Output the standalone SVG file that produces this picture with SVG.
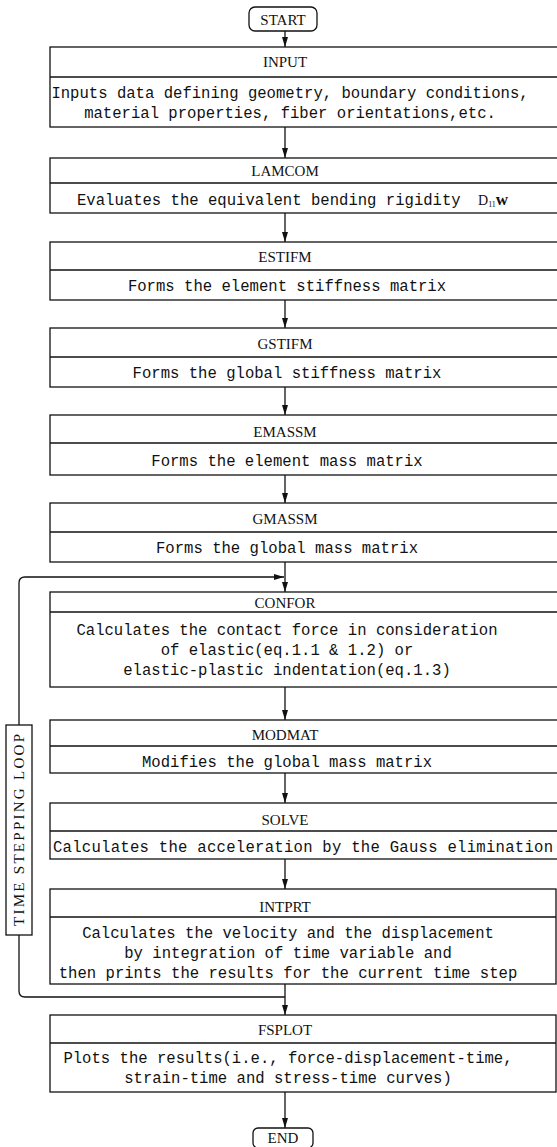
<svg xmlns="http://www.w3.org/2000/svg" width="557" height="1147" viewBox="0 0 557 1147">
<style>
.box{fill:#fff;stroke:#111;stroke-width:1.3}
.div{stroke:#111;stroke-width:1.3}
.hd{font-family:"Liberation Serif",serif;font-size:15px;text-anchor:middle;fill:#111}
.bd{font-family:"Liberation Mono",monospace;font-size:15.6px;text-anchor:middle;fill:#111}
.ln{fill:none;stroke:#111;stroke-width:1.3}
</style>
<defs>
<marker id="ah" markerUnits="userSpaceOnUse" markerWidth="10" markerHeight="10" viewBox="0 0 10 10" refX="10" refY="5" orient="auto">
<path d="M0,2 L10,5 L0,8 Z" fill="#111"/>
</marker>
</defs>
<rect width="557" height="1147" fill="#fff"/>
<g id="connectors">
<line class="ln" x1="285" y1="31" x2="285" y2="47" marker-end="url(#ah)"/>
<line class="ln" x1="285" y1="127" x2="285" y2="158" marker-end="url(#ah)"/>
<line class="ln" x1="285" y1="213" x2="285" y2="242" marker-end="url(#ah)"/>
<line class="ln" x1="285" y1="300" x2="285" y2="328" marker-end="url(#ah)"/>
<line class="ln" x1="285" y1="387" x2="285" y2="415" marker-end="url(#ah)"/>
<line class="ln" x1="285" y1="475" x2="285" y2="503" marker-end="url(#ah)"/>
<line class="ln" x1="285" y1="562" x2="285" y2="592" marker-end="url(#ah)"/>
<line class="ln" x1="285" y1="687" x2="285" y2="720" marker-end="url(#ah)"/>
<line class="ln" x1="285" y1="773" x2="285" y2="803" marker-end="url(#ah)"/>
<line class="ln" x1="285" y1="859" x2="285" y2="889" marker-end="url(#ah)"/>
<line class="ln" x1="285" y1="984" x2="285" y2="1015" marker-end="url(#ah)"/>
<line class="ln" x1="285" y1="1092" x2="285" y2="1128" marker-end="url(#ah)"/>
<path class="ln" d="M285,997 H25 Q19,997 19,991 V935"/>
<path class="ln" d="M19,725 V583 Q19,577 25,577 H284" marker-end="url(#ah)"/>
</g>
<g id="loop">
<rect class="box" x="6" y="725" width="26" height="210"/>
<text class="hd" transform="translate(24,830) rotate(-90)" textLength="192" lengthAdjust="spacing">TIME STEPPING LOOP</text>
</g>
<g id="start">
<rect class="box" x="249" y="7" width="68" height="24" rx="6"/>
<text class="hd" x="283" y="25">START</text>
</g>
<g id="input">
<rect class="box" x="50" y="47" width="512" height="80"/>
<line class="div" x1="50" y1="77" x2="562" y2="77"/>
<text class="hd" x="285" y="67">INPUT</text>
<text class="bd" x="290" y="98">Inputs data defining geometry, boundary conditions,</text>
<text class="bd" x="290" y="118">material properties, fiber orientations,etc.</text>
</g>
<g id="lamcom">
<rect class="box" x="50" y="158" width="512" height="55"/>
<line class="div" x1="50" y1="183" x2="562" y2="183"/>
<text class="hd" x="285" y="176">LAMCOM</text>
<text class="bd" x="77" y="205" style="text-anchor:start">Evaluates the equivalent bending rigidity</text>
<text x="478" y="205" style="font-family:'Liberation Serif',serif;font-size:14px;fill:#111">D<tspan font-size="8" dy="2">11</tspan><tspan dy="-2" font-weight="bold" font-size="17">w</tspan></text>
</g>
<g id="estifm">
<rect class="box" x="50" y="242" width="512" height="58"/>
<line class="div" x1="50" y1="270" x2="562" y2="270"/>
<text class="hd" x="285" y="262">ESTIFM</text>
<text class="bd" x="287" y="291">Forms the element stiffness matrix</text>
</g>
<g id="gstifm">
<rect class="box" x="50" y="328" width="512" height="59"/>
<line class="div" x1="50" y1="357" x2="562" y2="357"/>
<text class="hd" x="285" y="349">GSTIFM</text>
<text class="bd" x="287" y="378">Forms the global stiffness matrix</text>
</g>
<g id="emassm">
<rect class="box" x="50" y="415" width="512" height="60"/>
<line class="div" x1="50" y1="443" x2="562" y2="443"/>
<text class="hd" x="285" y="437">EMASSM</text>
<text class="bd" x="287" y="466">Forms the element mass matrix</text>
</g>
<g id="gmassm">
<rect class="box" x="50" y="503" width="512" height="59"/>
<line class="div" x1="50" y1="532" x2="562" y2="532"/>
<text class="hd" x="285" y="524">GMASSM</text>
<text class="bd" x="287" y="553">Forms the global mass matrix</text>
</g>
<g id="confor">
<rect class="box" x="50" y="592" width="512" height="95"/>
<line class="div" x1="50" y1="612" x2="562" y2="612"/>
<text class="hd" x="285" y="608">CONFOR</text>
<text class="bd" x="287" y="635">Calculates the contact force in consideration</text>
<text class="bd" x="287" y="655">of elastic(eq.1.1 &amp; 1.2) or</text>
<text class="bd" x="287" y="675">elastic-plastic indentation(eq.1.3)</text>
</g>
<g id="modmat">
<rect class="box" x="50" y="720" width="512" height="53"/>
<line class="div" x1="50" y1="746" x2="562" y2="746"/>
<text class="hd" x="285" y="740">MODMAT</text>
<text class="bd" x="287" y="767">Modifies the global mass matrix</text>
</g>
<g id="solve">
<rect class="box" x="50" y="803" width="512" height="56"/>
<line class="div" x1="50" y1="831" x2="562" y2="831"/>
<text class="hd" x="285" y="825">SOLVE</text>
<text class="bd" x="53" y="852" style="text-anchor:start" textLength="500" lengthAdjust="spacing">Calculates the acceleration by the Gauss elimination</text>
</g>
<g id="intprt">
<rect class="box" x="50" y="889" width="506" height="95"/>
<line class="div" x1="50" y1="917" x2="556" y2="917"/>
<text class="hd" x="285" y="912">INTPRT</text>
<text class="bd" x="288" y="938">Calculates the velocity and the displacement</text>
<text class="bd" x="288" y="958">by integration of time variable and</text>
<text class="bd" x="288" y="978">then prints the results for the current time step</text>
</g>
<g id="fsplot">
<rect class="box" x="50" y="1015" width="506" height="77"/>
<line class="div" x1="50" y1="1043" x2="556" y2="1043"/>
<text class="hd" x="285" y="1035">FSPLOT</text>
<text class="bd" x="288" y="1063">Plots the results(i.e., force-displacement-time,</text>
<text class="bd" x="288" y="1083">strain-time and stress-time curves)</text>
</g>
<g id="end">
<rect class="box" x="253" y="1128" width="60" height="20" rx="5"/>
<text class="hd" x="283" y="1143">END</text>
</g>
</svg>
